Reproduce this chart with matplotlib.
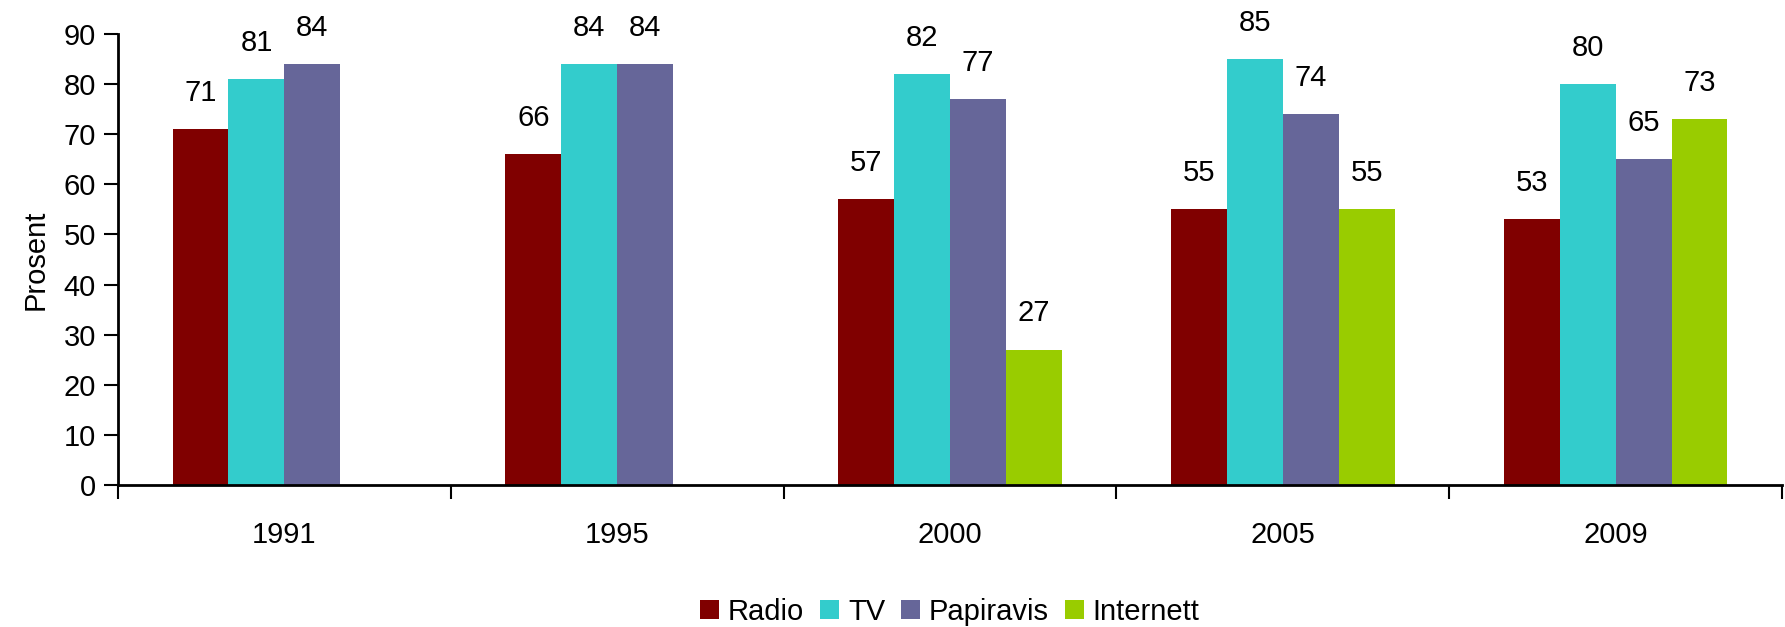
import numpy as np
import matplotlib
matplotlib.use("Agg")
import matplotlib.pyplot as plt

plt.rcParams['font.family'] = ['Liberation Sans', 'DejaVu Sans']

# Data
years = ['1991', '1995', '2000', '2005', '2009']
radio = [71, 66, 57, 55, 53]
tv = [81, 84, 82, 85, 80]
papiravis = [84, 84, 77, 74, 65]
internett = [np.nan, np.nan, 27, 55, 73]

series = [
    ('Radio', radio, '#800000'),
    ('TV', tv, '#33CCCC'),
    ('Papiravis', papiravis, '#666699'),
    ('Internett', internett, '#99CC00'),
]

fs = 21

fig = plt.figure(figsize=(17.85, 6.27), dpi=100)
ax = fig.add_axes([118 / 1785, 1 - 485 / 627, (1782 - 118) / 1785, (485 - 34) / 627])

x = np.arange(len(years))
w = 0.168
for i, (name, vals, col) in enumerate(series):
    pos = x + (i - 1.5) * w
    ax.bar(pos, vals, width=w, color=col, label=name, linewidth=0)
    for p, v in zip(pos, vals):
        if not np.isnan(v):
            ax.annotate(f'{v:.0f}', (p, v), xytext=(0, 16), textcoords='offset points',
                        ha='center', va='bottom', fontsize=fs)

ax.set_xlim(-0.5, len(years) - 0.5)
ax.set_ylim(0, 90)
ax.set_yticks(range(0, 91, 10))
ax.set_xticks(x)
ax.set_xticklabels(years)
ax.set_xticks(np.arange(-0.5, len(years)), minor=True)
ax.tick_params(axis='x', which='major', length=0, pad=26, labelsize=fs)
ax.tick_params(axis='x', which='minor', length=10, width=1.5, direction='out')
ax.tick_params(axis='y', length=10, width=1.5, direction='out', labelsize=fs, pad=6)

for s in ['top', 'right']:
    ax.spines[s].set_visible(False)
for s in ['left', 'bottom']:
    ax.spines[s].set_linewidth(2)

ax.set_ylabel('Prosent', fontsize=fs, labelpad=10)

ax.legend(loc='lower center', bbox_to_anchor=(0.5, -0.37), ncol=4, frameon=False,
          fontsize=fs, handlelength=0.65, handleheight=0.65, handletextpad=0.3,
          columnspacing=0.55)

fig.savefig('out.png', dpi=100)
